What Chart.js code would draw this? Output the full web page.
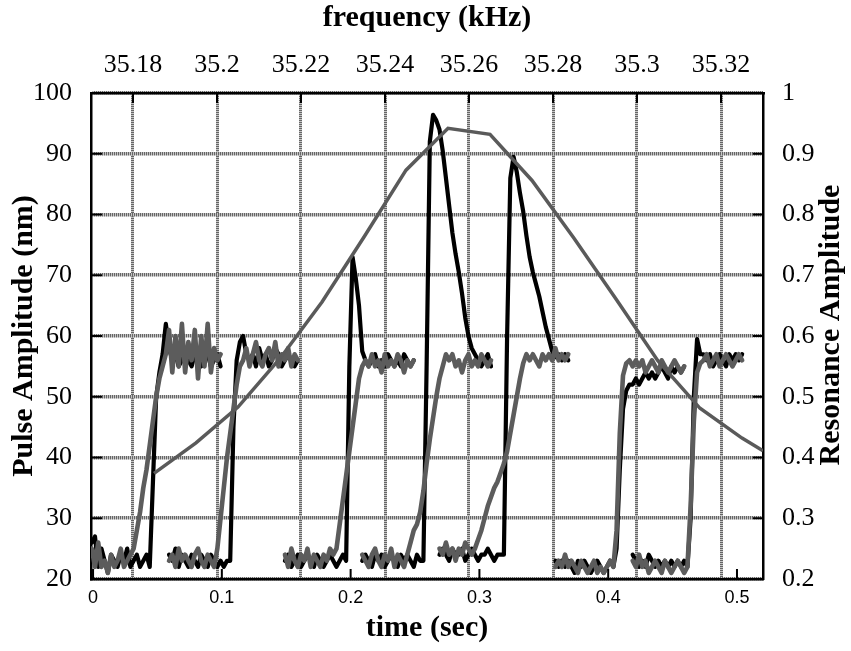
<!DOCTYPE html>
<html>
<head>
<meta charset="utf-8">
<script src="https://cdn.jsdelivr.net/npm/chart.js@4.4.1/dist/chart.umd.min.js"></script>
<style>
  html, body { margin: 0; padding: 0; background: #fff; }
  #wrap { width: 851px; height: 651px; }
</style>
</head>
<body>
<div id="wrap"><canvas id="c" width="851" height="651"></canvas></div>
<script>
// ---- tick values ----
const timeTicks = [0, 0.1, 0.2, 0.3, 0.4, 0.5];
const freqTicks = [35.18, 35.2, 35.22, 35.24, 35.26, 35.28, 35.3, 35.32];
const pulseTicks = [20, 30, 40, 50, 60, 70, 80, 90, 100];
const resTicks = [0.2, 0.3, 0.4, 0.5, 0.6, 0.7, 0.8, 0.9, 1];

// ---- resonance curve (frequency kHz vs amplitude) ----
const resFreq = [35.185, 35.195, 35.205, 35.215, 35.225, 35.235, 35.245, 35.255, 35.265, 35.275, 35.285, 35.295, 35.305, 35.315, 35.325, 35.33];
const resAmp  = [0.374, 0.424, 0.483, 0.563, 0.656, 0.763, 0.873, 0.942, 0.932, 0.856, 0.761, 0.661, 0.559, 0.481, 0.432, 0.411];

// ---- pulse traces: start time (s) of each recorded segment, sample step (s) ----
const segStart = [-0.001, 0.059, 0.149, 0.209, 0.269, 0.359, 0.419];
const sampleStep = 0.0025;

// black traces (nm)
const black1 = [26,27,22,25,23,21,24,23,22,24,23,25,22,23,24,22,23,24,22,36,50,54,57,62,58,56,57,55,56,57,56,55,57,56,55,56,57,55,56,57,55];
const black2 = [24,23,25,22,24,23,22,24,23,22,24,23,22,24,23,22,23,22,23,23,45,56,59,60,57,56,57,55,58,56,57,55,56,58,57,55,56,57,56,55,56];
const black3 = [23,24,22,23,24,22,23,24,23,22,24,23,22,23,24,23,22,23,24,23,55,73,69.5,65,57.5,56,55,56,57,55,56,55,57,56,55,56,55,57,56,55,56];
const black4 = [23,24,23,22,24,23,24,22,23,24,23,22,24,23,24,23,22,24,23,23,55,92,96.4,95.5,94,90.5,86,81.5,77,73.5,70.5,67,63,60,58,57,56,55,56,57,55];
const black5 = [24,25,24,23,25,24,24,25,23,24,25,24,23,24,24,25,24,23,24,24,24,60,86,89.5,87,83.5,80.5,76.5,73,70.5,68.5,66.5,64,61.5,59.5,57.5,56.5,57,56,57,56];
const black6 = [23,22,23,22,23,22,21,23,22,23,22,21,22,23,22,21,22,23,22,25,38,48,51,52,52,53,52,53,54,53,54,53,54,55,54,53,55,54,55,54,55];
const black7 = [24,23,22,23,22,24,23,22,23,22,23,22,23,22,23,22,23,22,30,50,59.5,57,57,56,57,55,56,57,56,55,57,56,57,56,57];

// gray traces (nm)
const gray1 = [25,22,26,22,23,21,24,22,23,25,22,23,24,25,28,31,35,38,42,46,50,53,55,57,61,54,60,55,62,54,59,56,61,53,60,55,62,54,58,56,57];
const gray2 = [23,24,22,25,23,24,23,22,24,25,23,22,24,23,22,25,30,35,40,44,48,52,55,56,58,55,57,59,56,55,57,58,56,59,55,57,56,58,55,57,56];
const gray3 = [24,22,25,23,22,24,23,25,22,24,23,22,24,23,25,24,25,29,33,37,41,45,49,53,55,56,55,57,55,56,54,57,55,56,55,57,56,54,56,55,56];
const gray4 = [24,23,22,24,25,23,22,24,23,25,22,24,23,22,24,26,28,29,31,34.5,39,43,46.5,50,53,55,57,56,57,55,56,54,56,57,55,56,55,57,56,55,56];
const gray5 = [25,24,26,24,25,23,25,24,26,25,24,25,26.5,28,30,32,33.5,35,36,37.5,39,41,44,47,50,53,55.5,57,56,57,56,55,57,56,57,56,58,56,57,56,57];
const gray6 = [22,23,22,24,22,23,22,21,23,22,21,22,23,21,22,21,22,23,22,28,44,53.5,55.5,56,55,56,55,56,54,55,56,55,54,56,55,54,55,56,55,54,55];
const gray7 = [23,22,24,22,23,21,22,23,22,21,23,22,21,22,23,22,21,22,32,46,54,55.5,56,57,55,56,57,55,56,57,56,55,56,57,56];

const blackSegs = [black1, black2, black3, black4, black5, black6, black7];
const graySegs = [gray1, gray2, gray3, gray4, gray5, gray6, gray7];

function toPoints(start, vals) {
  return vals.map((v, i) => ({ x: +(start + i * sampleStep).toFixed(5), y: v }));
}

const serif = 'Liberation Serif, Times New Roman, serif';
const sans = 'Liberation Sans, Arial, sans-serif';
const tickFont = { family: serif, size: 26, lineHeight: 1 };
const titleFont = { family: serif, size: 30, weight: 'bold', lineHeight: 1 };

// dotted grid texture
function makePattern(w, h) {
  const c = document.createElement('canvas');
  c.width = w; c.height = h;
  const g = c.getContext('2d');
  g.fillStyle = '#c4c4c4'; g.fillRect(0, 0, w, h);
  g.fillStyle = '#666666'; g.fillRect(0, 0, 1, 1);
  return g.createPattern(c, 'repeat');
}
const ctxMain = document.getElementById('c').getContext('2d');
const hPattern = makePattern(2, 1); // for horizontal lines
const vPattern = makePattern(1, 2); // for vertical lines

const datasets = [];
datasets.push({
  data: resFreq.map((f, i) => ({ x: f, y: resAmp[i] })),
  xAxisID: 'x2', yAxisID: 'y2',
  borderColor: '#5a5a5a', borderWidth: 3.5, pointRadius: 0, tension: 0, fill: false
});
graySegs.forEach((vals, k) => datasets.push({
  data: toPoints(segStart[k], vals), xAxisID: 'x', yAxisID: 'y',
  borderColor: '#5c5c5c', borderWidth: 4.6, pointRadius: 0, tension: 0, fill: false,
  borderJoinStyle: 'round', borderCapStyle: 'round'
}));
blackSegs.forEach((vals, k) => datasets.push({
  data: toPoints(segStart[k], vals), xAxisID: 'x', yAxisID: 'y',
  borderColor: '#000000', borderWidth: 4.2, pointRadius: 0, tension: 0, fill: false,
  borderJoinStyle: 'round', borderCapStyle: 'round'
}));

const innerTicks = {
  id: 'innerTicks',
  afterDatasetsDraw(chart) {
    const { ctx, chartArea: a, scales } = chart;
    ctx.save();
    ctx.strokeStyle = '#000';
    ctx.lineWidth = 2;
    ctx.beginPath();
    pulseTicks.forEach(v => { const y = scales.y.getPixelForValue(v); ctx.moveTo(a.left, y); ctx.lineTo(a.left + 11, y); });
    resTicks.forEach(v => { const y = scales.y2.getPixelForValue(v); ctx.moveTo(a.right, y); ctx.lineTo(a.right - 10, y); });
    freqTicks.forEach(v => { const x = scales.x2.getPixelForValue(v); ctx.moveTo(x, a.top); ctx.lineTo(x, a.top + 10); });
    timeTicks.forEach(v => { const x = scales.x.getPixelForValue(v); ctx.moveTo(x, a.bottom); ctx.lineTo(x, a.bottom - 10); });
    ctx.stroke();
    ctx.restore();
  }
};

// right axis title reads bottom-to-top, like the left one
const rightTitle = {
  id: 'rightTitle',
  afterDraw(chart) {
    const { ctx } = chart;
    const s = chart.scales.y2;
    ctx.save();
    ctx.translate(831, 325);
    ctx.rotate(-Math.PI / 2);
    ctx.font = 'bold 30px ' + serif;
    ctx.fillStyle = '#000';
    ctx.textAlign = 'center';
    ctx.textBaseline = 'middle';
    ctx.fillText(s.options.title.text, 0, 0);
    ctx.restore();
  }
};

new Chart(document.getElementById('c'), {
  type: 'line',
  data: { datasets },
  options: {
    responsive: false,
    animation: false,
    devicePixelRatio: 1,
    layout: { padding: 0 },
    plugins: { legend: { display: false }, tooltip: { enabled: false } },
    scales: {
      x: {
        type: 'linear', position: 'bottom', min: -0.0016, max: 0.5202,
        grid: { display: false, drawTicks: false },
        border: { display: true, color: '#000', width: 2.5 },
        afterBuildTicks: s => { s.ticks = timeTicks.map(v => ({ value: v })); },
        ticks: { font: { family: sans, size: 18, lineHeight: 1 }, color: '#000', padding: 10, maxRotation: 0, autoSkip: false, callback: v => String(v) },
        title: { display: true, text: 'time (sec)', font: titleFont, color: '#000', padding: { top: 0, bottom: 8 } },
        afterFit: s => { s.height = 72; }
      },
      x2: {
        type: 'linear', position: 'top', min: 35.17, max: 35.33,
        grid: { color: vPattern, lineWidth: 3, drawTicks: false },
        border: { display: true, color: '#000', width: 2.5 },
        afterBuildTicks: s => { s.ticks = freqTicks.map(v => ({ value: v })); },
        ticks: { font: tickFont, color: '#000', padding: 15, maxRotation: 0, autoSkip: false, callback: v => String(v) },
        title: { display: true, text: 'frequency (kHz)', font: titleFont, color: '#000', padding: { top: 3, bottom: 0 } },
        afterFit: s => { s.height = 93; }
      },
      y: {
        type: 'linear', position: 'left', min: 20, max: 100,
        grid: { color: hPattern, lineWidth: 3.6, drawTicks: false },
        border: { display: true, color: '#000', width: 2.5 },
        afterBuildTicks: s => { s.ticks = pulseTicks.map(v => ({ value: v })); },
        ticks: { font: tickFont, color: '#000', padding: 19, autoSkip: false, callback: v => String(v) },
        title: { display: true, text: 'Pulse Amplitude (nm)', font: titleFont, color: '#000', padding: { top: 9, bottom: 0 } },
        afterFit: s => { s.width = 91; }
      },
      y2: {
        type: 'linear', position: 'right', min: 0.2, max: 1,
        grid: { display: false, drawTicks: false },
        border: { display: true, color: '#000', width: 2.5 },
        afterBuildTicks: s => { s.ticks = resTicks.map(v => ({ value: v })); },
        ticks: { font: tickFont, color: '#000', padding: 19, autoSkip: false, callback: v => String(v) },
        title: { display: true, text: 'Resonance Amplitude', font: titleFont, color: 'rgba(0,0,0,0)', padding: { top: 5, bottom: 0 } },
        afterFit: s => { s.width = 88; }
      }
    }
  },
  plugins: [innerTicks, rightTitle]
});
</script>
</body>
</html>
